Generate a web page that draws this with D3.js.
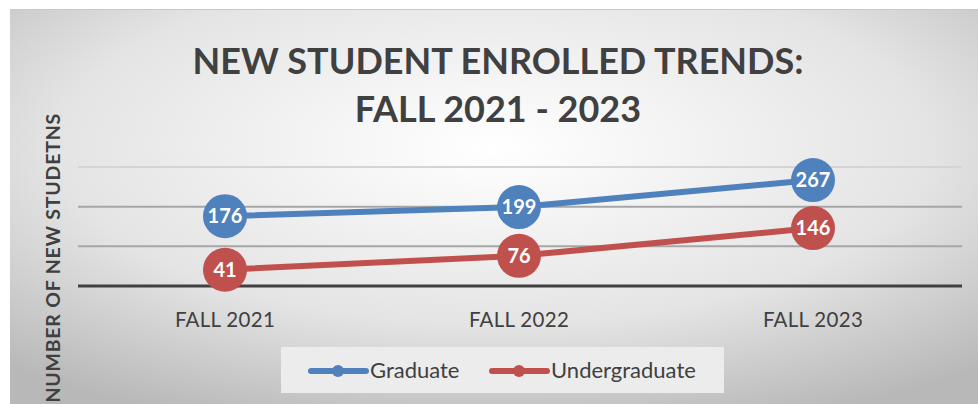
<!DOCTYPE html>
<meta charset="utf-8">
<style>
body { margin: 0; background: #fff; }
svg text { font-family: Lato, "Open Sans", sans-serif; }
</style>
<body>
<svg width="978" height="404"></svg>
<script src="https://d3js.org/d3.v7.min.js"></script>
<script>

var categories = ["FALL 2021", "FALL 2022", "FALL 2023"];
var graduate = [176, 199, 267];
var undergraduate = [41, 76, 146];
var gridTicks = [100, 200, 300];
var titleLines = ["NEW STUDENT ENROLLED TRENDS:", "FALL 2021 - 2023"];

var series = [
  {name: "Graduate", values: graduate, color: "#4f81bd"},
  {name: "Undergraduate", values: undergraduate, color: "#c0504d"}
];

var svg = d3.select("svg");

// background gradient
var defs = svg.append("defs");
var grad = defs.append("radialGradient")
  .attr("id", "bg")
  .attr("cx", "50%").attr("cy", "35%").attr("r", "75%")
  .attr("gradientUnits", "objectBoundingBox");
grad.append("stop").attr("offset", "0%").attr("stop-color", "#ffffff");
grad.append("stop").attr("offset", "60%").attr("stop-color", "#e4e4e4");
grad.append("stop").attr("offset", "100%").attr("stop-color", "#b8b8b8");

svg.append("rect")
  .attr("x", 10).attr("y", 9)
  .attr("width", 968).attr("height", 395)
  .attr("fill", "url(#bg)");
svg.append("line")
  .attr("x1", 10).attr("x2", 978).attr("y1", 9.5).attr("y2", 9.5)
  .attr("stroke", "#c8c8c8");

var x = d3.scalePoint()
  .domain(categories)
  .range([225, 813]);

var y = d3.scaleLinear()
  .domain([0, 300])
  .range([286, 167]);

// gridlines
svg.append("g")
  .selectAll("line")
  .data(gridTicks)
  .enter().append("line")
  .attr("x1", 78).attr("x2", 962)
  .attr("y1", function(d){ return y(d); })
  .attr("y2", function(d){ return y(d); })
  .attr("stroke", function(d){ return d == 300 ? "#d4d4d4" : "#a6a6a6"; })
  .attr("stroke-width", 2);

// baseline
svg.append("line")
  .attr("x1", 78).attr("x2", 962)
  .attr("y1", y(0)).attr("y2", y(0))
  .attr("stroke", "#404040")
  .attr("stroke-width", 3);

// x labels
svg.append("g")
  .selectAll("text")
  .data(categories)
  .enter().append("text")
  .attr("x", function(d){ return x(d); })
  .attr("y", 327)
  .attr("text-anchor", "middle")
  .attr("fill", "#404040")
  .style("font-size", "20.5px")
  .style("letter-spacing", "0.3px")
  .text(function(d){ return d; });

// title
svg.append("g")
  .selectAll("text")
  .data(titleLines)
  .enter().append("text")
  .attr("x", 498)
  .attr("y", function(d, i){ return 74 + i * 48; })
  .attr("text-anchor", "middle")
  .attr("fill", "#404040")
  .style("font-size", "36px")
  .style("font-weight", "bold")
  .text(function(d){ return d; });

// y axis title
svg.append("text")
  .attr("transform", "translate(60,113) rotate(-90)")
  .attr("text-anchor", "end")
  .attr("fill", "#404040")
  .style("font-size", "19.5px")
  .style("font-weight", "bold")
  .style("letter-spacing", "0.8px")
  .text("NUMBER OF NEW STUDETNS");

var line = d3.line()
  .x(function(d, i){ return x(categories[i]); })
  .y(function(d){ return y(d); });

series.forEach(function(s){
  var g = svg.append("g");
  g.append("path")
    .attr("d", line(s.values))
    .attr("fill", "none")
    .attr("stroke", s.color)
    .attr("stroke-width", 6)
    .attr("stroke-linecap", "round");
  g.selectAll("circle")
    .data(s.values)
    .enter().append("circle")
    .attr("cx", function(d, i){ return x(categories[i]); })
    .attr("cy", function(d){ return y(d); })
    .attr("r", 22)
    .attr("fill", s.color);
  g.selectAll("text")
    .data(s.values)
    .enter().append("text")
    .attr("x", function(d, i){ return x(categories[i]); })
    .attr("y", function(d){ return y(d) + 7; })
    .attr("text-anchor", "middle")
    .attr("fill", "#fff")
    .style("font-size", "20px")
    .style("font-weight", "bold")
    .text(function(d){ return d; });
});

// legend
var legend = svg.append("g");
legend.append("rect")
  .attr("x", 281).attr("y", 347)
  .attr("width", 443).attr("height", 46)
  .attr("fill", "#ececec");

var legendX = [311, 492];
series.forEach(function(s, i){
  var lx = legendX[i];
  legend.append("line")
    .attr("x1", lx).attr("x2", lx + 55)
    .attr("y1", 371).attr("y2", 371)
    .attr("stroke", s.color)
    .attr("stroke-width", 6)
    .attr("stroke-linecap", "round");
  legend.append("circle")
    .attr("cx", lx + 27).attr("cy", 371).attr("r", 6)
    .attr("fill", s.color);
  legend.append("text")
    .attr("x", lx + 59).attr("y", 378)
    .attr("fill", "#404040")
    .style("font-size", "22px")
    .text(s.name);
});

</script>
</body>
